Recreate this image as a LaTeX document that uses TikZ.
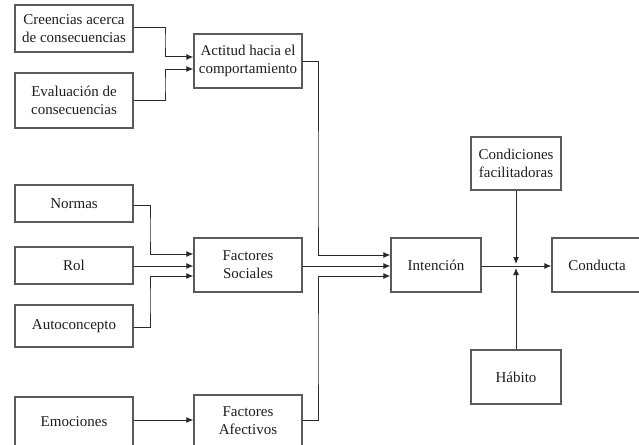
\documentclass[tikz,border=0pt]{standalone}
\usepackage{fontspec}
\setmainfont{Liberation Serif}
\usetikzlibrary{arrows.meta}
\definecolor{boxline}{HTML}{5A5A5A}
\definecolor{conn}{HTML}{2A2A2A}
\definecolor{txt}{HTML}{1E1E1E}
\begin{document}
\begin{tikzpicture}[x=1pt,y=-1pt,
  bx/.style={draw=boxline,line width=1.3pt,fill=white,rectangle,inner sep=0pt,align=center,
    text=txt,font=\fontsize{15}{18}\selectfont},
  arr/.style={draw=conn,line width=1pt,-{Latex[length=7pt,width=6pt]}},
  ln/.style={draw=conn,line width=1pt}]
\useasboundingbox (0,0) rectangle (639,444);
\clip (0,0) rectangle (639,444);
\fill[white] (0,0) rectangle (639,444);
% nodes
\node[bx,minimum width=118pt,minimum height=47pt] (cre) at (74,28.5) {Creencias acerca\\de consecuencias};
\node[bx,minimum width=118pt,minimum height=55pt] (eva) at (74,100.5) {Evaluación de\\consecuencias};
\node[bx,minimum width=108pt,minimum height=54pt] (act) at (248,61) {Actitud hacia el\\comportamiento};
\node[bx,minimum width=118pt,minimum height=37pt] (nor) at (74,203.5) {Normas};
\node[bx,minimum width=118pt,minimum height=37pt] (rol) at (74,265.5) {Rol};
\node[bx,minimum width=118pt,minimum height=42pt] (aut) at (74,326) {Autoconcepto};
\node[bx,minimum width=118pt,minimum height=50pt] (emo) at (74,422) {Emociones};
\node[bx,minimum width=108pt,minimum height=54pt] (fs) at (248,265) {Factores\\Sociales};
\node[bx,minimum width=108pt,minimum height=52pt] (fa) at (248,421) {Factores\\Afectivos};
\node[bx,minimum width=90pt,minimum height=54pt] (int) at (436,265) {Intención};
\node[bx,minimum width=90pt,minimum height=53pt] (con) at (516,163.5) {Condiciones\\facilitadoras};
\node[bx,minimum width=90pt,minimum height=54pt] (hab) at (516,377) {Hábito};
\node[bx,minimum width=90pt,minimum height=54pt] (cdt) at (597,265) {Conducta};
% connectors
\draw[arr] (cre.east |- 0,28) -| (165,40) |- (act.west |- 0,57);
\draw[arr] (eva.east |- 0,100) -| (165,85) |- (act.west |- 0,69);
\draw[arr] (act.east) -| (318,200) |- (int.west |- 0,255);
\draw[arr] (nor.east |- 0,205) -| (150,230) |- (fs.west |- 0,254);
\draw[arr] (rol.east |- 0,266) -- (fs.west |- 0,266);
\draw[arr] (aut.east |- 0,327) -| (150,300) |- (fs.west |- 0,276);
\draw[arr] (fs.east |- 0,266) -- (int.west |- 0,266);
\draw[arr] (fa.east |- 0,420) -| (318,350) |- (int.west |- 0,276);
\draw[arr] (emo.east |- 0,420) -- (fa.west |- 0,420);
\draw[arr] (int.east |- 0,266) -- (cdt.west |- 0,266);
\coordinate (jt) at (516,264);
\coordinate (jb) at (516,268);
\draw[arr] (con.south) -- (jt);
\draw[arr] (hab.north) -- (jb);
\end{tikzpicture}
\end{document}
